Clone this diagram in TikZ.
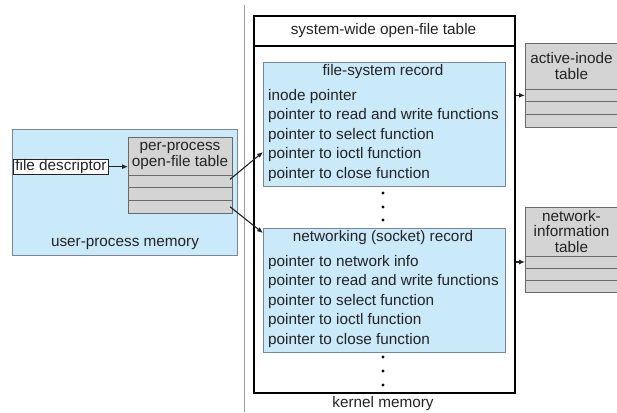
\documentclass[tikz,border=0pt]{standalone}
\usepackage{fontspec}
\setmainfont{Liberation Sans}
\usetikzlibrary{arrows.meta,positioning}
\definecolor{memblue}{RGB}{202,233,249}
\definecolor{blueedge}{RGB}{120,135,150}
\definecolor{cellgray}{RGB}{212,212,212}
\definecolor{celledge}{RGB}{105,105,105}
\definecolor{inkgray}{RGB}{35,35,35}
\newcommand{\figfont}{\fontsize{15.3}{15.5}\selectfont}
\tikzset{
  blue box/.style={
    fill=memblue,
    draw=blueedge,
    line width=1pt,
    anchor=north west,
    inner sep=0pt,
  },
  table cell/.style={
    fill=cellgray,
    draw=celledge,
    line width=0.8pt,
    minimum width={#1},
    anchor=north west,
    inner sep=0pt,
    outer sep=0pt,
    align=center,
  },
  fd box/.style={
    fill=white,
    draw=inkgray,
    line width=0.8pt,
    anchor=north west,
    minimum width=95pt,
    text height=11pt,
    text depth=3pt,
    inner xsep=2pt,
    inner ysep=0.3pt,
  },
  kernel box/.style={
    draw=black,
    line width=2pt,
    anchor=north west,
    inner sep=0pt,
  },
  record line/.style={
    anchor=west,
    inner sep=0pt,
    text height=11pt,
    text depth=3pt,
  },
  dot/.style={
    circle,
    fill=black,
    inner sep=0pt,
    minimum size=3.2pt,
  },
  ptr/.style={
    -{Latex[length=6pt,width=5pt]},
    line width=1.1pt,
    draw=inkgray,
  },
  divider/.style={
    draw=gray!75,
    line width=1.2pt,
  }
}

\begin{document}
\begin{tikzpicture}[x=1pt,y=-1pt,font=\figfont,text=inkgray,node distance=0pt]
        \useasboundingbox (0,0) rectangle (617,412);
        \draw[divider] (244.5,5) -- (244.5,412);

        % user side
        \node [blue box, minimum width=225pt, minimum height=126pt] (userproc) at (12,129) {};
        \node (userlbl) at (125,244) {user-process memory};
        \node [table cell=104pt, minimum height=38pt] (pphead) at (128,137) {per-process\\open-file table};
        \node [table cell=104pt, minimum height=12.7pt, below=of pphead] (pprow1) {};
        \node [table cell=104pt, minimum height=12.7pt, below=of pprow1] (pprow2) {};
        \node [table cell=104pt, minimum height=12.7pt, below=of pprow2] (pprow3) {};
        \node [fd box] (fdesc) at (13,159) {file descriptor};

        % kernel side
        \node [kernel box, minimum width=261pt, minimum height=377pt] (kernel) at (253,15) {};
        \node [anchor=north west, minimum width=261pt, minimum height=31pt, inner sep=0pt, outer sep=0pt] (khead) at (253,15) {system-wide open-file table};
        \draw [line width=1.2pt] (khead.south west) -- (khead.south east);

        \node [blue box, minimum width=242pt, minimum height=124pt] (fsrec) at (263,62) {};
        \node (fstitle) at (383,72) {file-system record};
        \foreach \txt [count=\i] in {inode pointer, pointer to read and write functions,
            pointer to select function, pointer to ioctl function, pointer to close function}
          \node [record line] (fsl\i) at (268,76.5+19.5*\i) {\txt};
        \foreach \y [count=\i] in {193,207,220}
          \node [dot] (mid\i) at (383,\y) {};

        \node [blue box, minimum width=242pt, minimum height=124pt] (netrec) at (263,228) {};
        \node (nettitle) at (383,238) {networking (socket) record};
        \foreach \txt [count=\i] in {pointer to network info, pointer to read and write functions,
            pointer to select function, pointer to ioctl function, pointer to close function}
          \node [record line] (netl\i) at (268,242.5+19.5*\i) {\txt};
        \foreach \y [count=\i] in {357,371,385}
          \node [dot] (end\i) at (383,\y) {};

        \node (kmem) at (383,404) {kernel memory};

        % tables on the right
        \node [table cell=93pt, minimum height=46pt] (ihead) at (525,43) {active-inode\\table};
        \node [table cell=93pt, minimum height=12.7pt, below=of ihead] (irow1) {};
        \node [table cell=93pt, minimum height=12.7pt, below=of irow1] (irow2) {};
        \node [table cell=93pt, minimum height=12.7pt, below=of irow2] (irow3) {};

        \node [table cell=93pt, minimum height=49pt] (nhead) at (525,207) {network-\\information\\table};
        \node [table cell=93pt, minimum height=12pt, below=of nhead] (nrow1) {};
        \node [table cell=93pt, minimum height=12pt, below=of nrow1] (nrow2) {};
        \node [table cell=93pt, minimum height=12pt, below=of nrow2] (nrow3) {};

        % pointers
        \draw [ptr] (fdesc.east) -- (fdesc.east -| pphead.west);
        \draw [ptr] ([xshift=-2pt,yshift=2pt]pprow1.east) -- ([yshift=35pt]fsrec.south west);
        \draw [ptr] ([xshift=-2pt]pprow3.east) -- ([yshift=-5pt]netrec.north west);
        \draw [ptr] (kernel.east |- irow1.west) -- (irow1.west);
        \draw [ptr] (kernel.east |- nrow1.west) -- (nrow1.west);
      \end{tikzpicture}
\end{document}
